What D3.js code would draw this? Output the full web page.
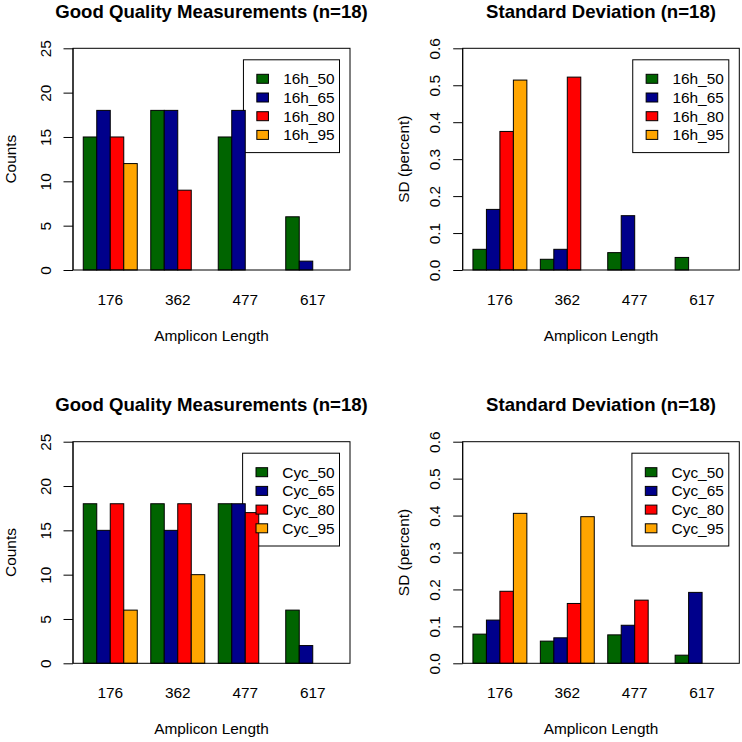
<!DOCTYPE html>
<html>
<head>
<meta charset="utf-8">
<script src="https://cdn.jsdelivr.net/npm/d3@7"></script>
<style>
  html, body { margin: 0; padding: 0; background: #fff; }
  svg { display: block; }
  text { font-family: "Liberation Sans", Arial, Helvetica, sans-serif; fill: #000; }
</style>
</head>
<body>
<svg id="chart" width="742" height="742"></svg>
<script>
// ---------------- DATA ----------------
const categories = ["176", "362", "477", "617"];
const seriesTop = ["16h_50", "16h_65", "16h_80", "16h_95"];
const seriesBottom = ["Cyc_50", "Cyc_65", "Cyc_80", "Cyc_95"];
const seriesColors = ["#006400", "#00008B", "#FF0000", "#FFA500"];

// values per series, across categories 176, 362, 477, 617
const countsTop = [
  [15, 18, 15, 6],
  [18, 18, 18, 1],
  [15, 9, 0, 0],
  [12, 0, 0, 0]
];
const sdTop = [
  [0.056, 0.029, 0.047, 0.034],
  [0.164, 0.056, 0.147, 0],
  [0.375, 0.522, 0, 0],
  [0.514, 0, 0, 0]
];
const countsBottom = [
  [18, 18, 18, 6],
  [15, 15, 18, 2],
  [18, 18, 17, 0],
  [6, 10, 0, 0]
];
const sdBottom = [
  [0.079, 0.060, 0.077, 0.022],
  [0.117, 0.069, 0.103, 0.192],
  [0.195, 0.162, 0.171, 0],
  [0.406, 0.397, 0, 0]
];

const countTicks = [0, 5, 10, 15, 20, 25];
const sdTicks = [0, 0.1, 0.2, 0.3, 0.4, 0.5, 0.6];

const titleCounts = "Good Quality Measurements (n=18)";
const titleSD = "Standard Deviation (n=18)";
const xLabel = "Amplicon Length";
const yLabelCounts = "Counts";
const yLabelSD = "SD (percent)";

// ---------------- LAYOUT ----------------
const svg = d3.select("#chart");
const colBox = [[73, 350], [462.7, 739.3]];
const rowBox = [[48.3, 270], [441.7, 663.3]];

const panels = [
  { col: 0, row: 0, title: titleCounts, ylab: yLabelCounts, ylabOff: 57.5, series: seriesTop, values: countsTop, ticks: countTicks, fmt: d3.format("d") },
  { col: 1, row: 0, title: titleSD, ylab: yLabelSD, ylabOff: 53.7, series: seriesTop, values: sdTop, ticks: sdTicks, fmt: d3.format(".1f") },
  { col: 0, row: 1, title: titleCounts, ylab: yLabelCounts, ylabOff: 57.5, series: seriesBottom, values: countsBottom, ticks: countTicks, fmt: d3.format("d") },
  { col: 1, row: 1, title: titleSD, ylab: yLabelSD, ylabOff: 53.7, series: seriesBottom, values: sdBottom, ticks: sdTicks, fmt: d3.format(".1f") }
];

const fontSize = 15.4;
const titleSize = 18.6;

panels.forEach(p => {
  const [x0, x1] = colBox[p.col];
  const [y0, y1] = rowBox[p.row];
  const g = svg.append("g");

  // R barplot unit scale: bars of width 1, group space 1 -> bars span [1, 20], extended 4%
  const xs = d3.scaleLinear().domain([0.24, 20.76]).range([x0, x1]);
  const outer = d3.scaleBand().domain(categories).range([xs(1), xs(20)]).paddingInner(0.2).paddingOuter(0);
  const inner = d3.scaleBand().domain(p.series).range([0, outer.bandwidth()]);
  const ys = d3.scaleLinear().domain([0, d3.max(p.ticks)]).range([y1, y0]);
  const color = d3.scaleOrdinal().domain(p.series).range(seriesColors);

  // legend layout
  const tmp = g.append("text").style("font-size", fontSize + "px").text(p.series[0]);
  let tw = 0;
  p.series.forEach(s => { tmp.text(s); tw = Math.max(tw, tmp.node().getComputedTextLength()); });
  tmp.remove();
  const lgRight = x1 - 10.5;
  const lgTop = y0 + 11.5;
  const textRight = lgRight - 5;
  const textLeft = textRight - tw;
  const sqRight = textLeft - 14.7;
  const sqLeft = sqRight - 11.6;
  const lgLeft = sqLeft - 13.4;
  const rowStep = 18.7;
  const firstRow = lgTop + 19;
  const lgBottom = firstRow + rowStep * (p.series.length - 1) + 17.7;

  // legend box (under bars)
  g.append("rect")
    .attr("x", lgLeft).attr("y", lgTop)
    .attr("width", lgRight - lgLeft).attr("height", lgBottom - lgTop)
    .attr("fill", "none").attr("stroke", "#000").attr("stroke-width", 1);

  // bars
  const flat = [];
  p.series.forEach((s, si) => {
    categories.forEach((c, ci) => flat.push({ s, c, v: p.values[si][ci] }));
  });
  g.append("g").selectAll("rect").data(flat).join("rect")
    .attr("x", d => outer(d.c) + inner(d.s))
    .attr("width", inner.bandwidth())
    .attr("y", d => ys(d.v))
    .attr("height", d => ys(0) - ys(d.v))
    .attr("fill", d => color(d.s))
    .attr("stroke", "#000").attr("stroke-width", 1);

  // legend keys and labels
  p.series.forEach((s, i) => {
    const cy = firstRow + i * rowStep;
    g.append("rect")
      .attr("x", sqLeft).attr("y", cy - 4.5)
      .attr("width", sqRight - sqLeft).attr("height", 9)
      .attr("fill", color(s)).attr("stroke", "#000").attr("stroke-width", 1);
    g.append("text")
      .attr("x", textLeft).attr("y", cy + 5.4)
      .style("font-size", fontSize + "px")
      .text(s);
  });

  // box
  g.append("rect")
    .attr("x", x0).attr("y", y0)
    .attr("width", x1 - x0).attr("height", y1 - y0)
    .attr("fill", "none").attr("stroke", "#000").attr("stroke-width", 1);

  // y axis
  const ax = g.append("g").attr("transform", `translate(${x0},0)`)
    .call(d3.axisLeft(ys).tickValues(p.ticks).tickFormat(p.fmt).tickSize(9.5).tickPadding(0));
  ax.select(".domain").attr("stroke", "#000").attr("d", `M0,${ys(0)}V${ys(d3.max(p.ticks))}`);
  ax.selectAll(".tick line").attr("stroke", "#000");
  ax.selectAll(".tick text")
    .attr("x", null).attr("dy", null)
    .attr("text-anchor", "middle")
    .attr("transform", "translate(-22.5,0) rotate(-90)")
    .style("font-size", fontSize + "px")
    .style("font-family", '"Liberation Sans", Arial, sans-serif')
    .attr("fill", "#000");

  // category labels
  g.append("g").selectAll("text").data(categories).join("text")
    .attr("x", d => outer(d) + outer.bandwidth() / 2)
    .attr("y", y1 + 34.8)
    .attr("text-anchor", "middle")
    .style("font-size", fontSize + "px")
    .text(d => d);

  // x label
  g.append("text")
    .attr("x", (x0 + x1) / 2).attr("y", y1 + 70.8)
    .attr("text-anchor", "middle")
    .style("font-size", fontSize + "px")
    .text(xLabel);

  // y label
  g.append("text")
    .attr("transform", `translate(${x0 - p.ylabOff},${(y0 + y1) / 2}) rotate(-90)`)
    .attr("text-anchor", "middle")
    .style("font-size", fontSize + "px")
    .text(p.ylab);

  // title
  g.append("text")
    .attr("x", (x0 + x1) / 2).attr("y", y0 - 30.4)
    .attr("text-anchor", "middle")
    .style("font-size", titleSize + "px").style("font-weight", "bold")
    .text(p.title);
});
</script>
</body>
</html>
